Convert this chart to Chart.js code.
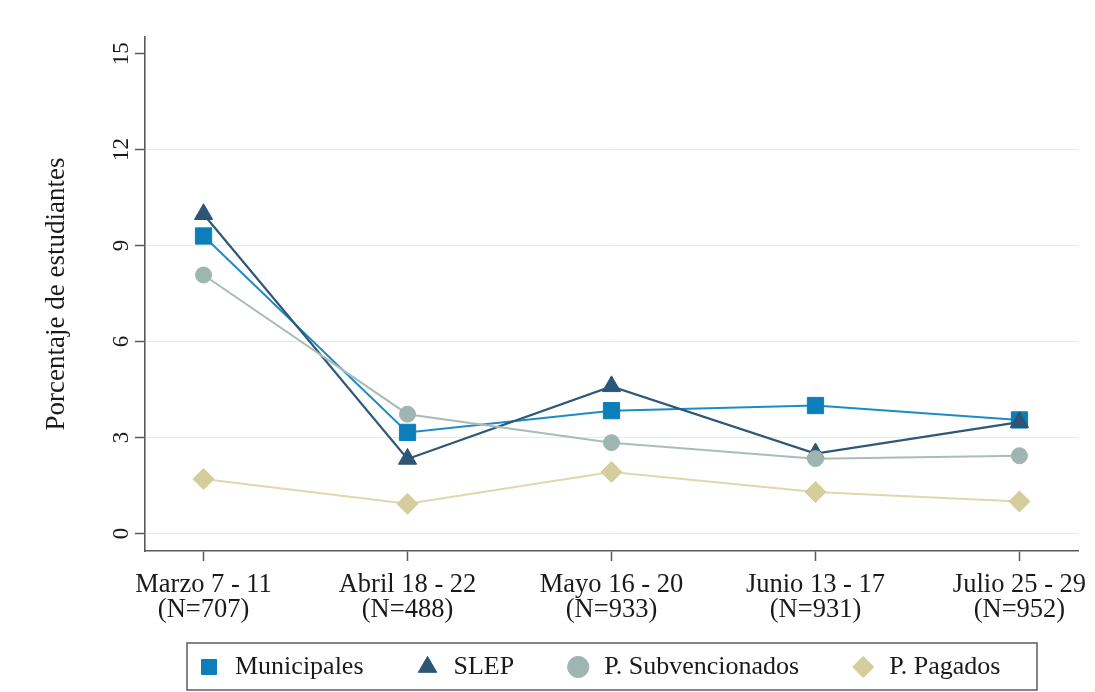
<!DOCTYPE html>
<html>
<head>
<meta charset="utf-8">
<script src="https://cdn.jsdelivr.net/npm/chart.js@4/dist/chart.umd.min.js"></script>
<style>
  html, body { margin: 0; padding: 0; background: #ffffff; }
  #wrap { width: 1095px; height: 692px; position: relative; }
</style>
</head>
<body>
<div id="wrap"><canvas id="c"></canvas></div>
<script>
// ---- data ----
const categories = [
  ["Marzo 7 - 11", "(N=707)"],
  ["Abril 18 - 22", "(N=488)"],
  ["Mayo 16 - 20", "(N=933)"],
  ["Junio 13 - 17", "(N=931)"],
  ["Julio 25 - 29", "(N=952)"]
];
const seriesNames = ["Municipales", "SLEP", "P. Subvencionados", "P. Pagados"];
const municipales = [9.30, 3.16, 3.84, 4.00, 3.55];
const slep = [9.98, 2.33, 4.60, 2.50, 3.48];
const subvencionados = [8.08, 3.73, 2.84, 2.34, 2.43];
const pagados = [1.70, 0.93, 1.92, 1.30, 1.00];
const yTicks = [0, 3, 6, 9, 12, 15];
const yTitle = "Porcentaje de estudiantes";

const FONT = "'Liberation Serif', 'Times New Roman', serif";
const AXIS = "#5a5a5a";
const TEXT = "#1a1a1a";

function pts(arr) { return arr.map((v, i) => ({ x: i, y: v })); }

const styles = [
  { line: "#1d8cc6", mark: "#0c7fba", shape: "rect", r: 11.5, w: 2.0, order: 4 },
  { line: "#2f5878", mark: "#2c5676", shape: "triangle", r: 10.5, w: 2.2, order: 3 },
  { line: "#a9bcb9", mark: "#9fb5b2", shape: "circle", r: 8.0, w: 2.0, order: 2 },
  { line: "#ddd8ae", mark: "#d4ce9c", shape: "rectRot", r: 10.5, w: 2.0, order: 1 }
];
const values = [municipales, slep, subvencionados, pagados];

const datasets = values.map((vals, k) => ({
  label: seriesNames[k],
  data: pts(vals),
  borderColor: styles[k].line,
  backgroundColor: styles[k].mark,
  borderWidth: styles[k].w,
  pointStyle: styles[k].shape,
  pointRadius: styles[k].r,
  pointHoverRadius: styles[k].r,
  pointBackgroundColor: styles[k].mark,
  pointBorderColor: styles[k].mark,
  pointBorderWidth: 1,
  tension: 0,
  fill: false,
  order: styles[k].order
}));

// legend placement + frame
const legendFrame = {
  id: "legendFrame",
  afterLayout(chart) {
    const lg = chart.legend;
    lg.bottom = chart.height - 2;
    lg.top = lg.bottom - 87;
    lg.height = 87;
  },
  afterDraw(chart) {
    const ca = chart.chartArea;
    const lg = chart.legend;
    const ctx = chart.ctx;
    ctx.save();
    ctx.strokeStyle = "#5e5e5e";
    ctx.lineWidth = 1.5;
    const x0 = ca.left + 42, x1 = ca.right - 41;
    const y0 = lg.top + 40, y1 = lg.bottom;
    ctx.strokeRect(x0, y0, x1 - x0, y1 - y0);
    ctx.restore();
  }
};

new Chart(document.getElementById("c"), {
  type: "line",
  data: { datasets },
  plugins: [legendFrame],
  options: {
    responsive: true,
    maintainAspectRatio: false,
    animation: false,
    events: [],
    layout: { padding: { left: 41, right: 17, top: 37, bottom: 2 } },
    plugins: {
      tooltip: { enabled: false },
      legend: {
        position: "bottom",
        fullSize: false,
        align: "start",
        maxHeight: 58,
        labels: {
          usePointStyle: true,
          boxHeight: 15,
          boxWidth: 26,
          padding: 51,
          color: TEXT,
          font: { family: FONT, size: 26 },
          sort: (a, b) => a.datasetIndex - b.datasetIndex
        }
      }
    },
    scales: {
      x: {
        type: "linear",
        min: -0.287,
        max: 4.287,
        afterBuildTicks: (s) => { s.ticks = categories.map((c, i) => ({ value: i })); },
        afterFit: (s) => { s.height = 81; s.paddingLeft = 0; s.paddingRight = 0; },
        ticks: {
          autoSkip: false,
          maxRotation: 0,
          minRotation: 0,
          padding: 12,
          color: TEXT,
          font: { family: FONT, size: 26.5, lineHeight: 0.92 },
          callback: (v) => categories[v] || ""
        },
        grid: {
          drawOnChartArea: false,
          drawTicks: true,
          tickLength: 10,
          tickColor: AXIS,
          tickWidth: 1.5
        },
        border: { display: true, color: AXIS, width: 1.6 }
      },
      y: {
        type: "linear",
        min: -0.547,
        max: 15.52,
        afterBuildTicks: (s) => { s.ticks = yTicks.map(v => ({ value: v })); },
        afterFit: (s) => { s.width = 104; },
        ticks: {
          minRotation: 90,
          maxRotation: 90,
          crossAlign: "center",
          padding: 2,
          color: TEXT,
          font: { family: FONT, size: 23 },
          callback: (v) => String(v)
        },
        grid: {
          color: (ctx) => (ctx.tick && ctx.tick.value === 15) ? "rgba(0,0,0,0)" : "#e9e9e9",
          lineWidth: 1,
          drawTicks: true,
          tickLength: 10,
          tickColor: AXIS,
          tickWidth: 1.5
        },
        border: { display: true, color: AXIS, width: 1.6 },
        title: {
          display: true,
          text: yTitle,
          color: TEXT,
          font: { family: FONT, size: 27, lineHeight: 1.2 },
          padding: { top: 0, bottom: 0 }
        }
      }
    }
  }
});
</script>
</body>
</html>
